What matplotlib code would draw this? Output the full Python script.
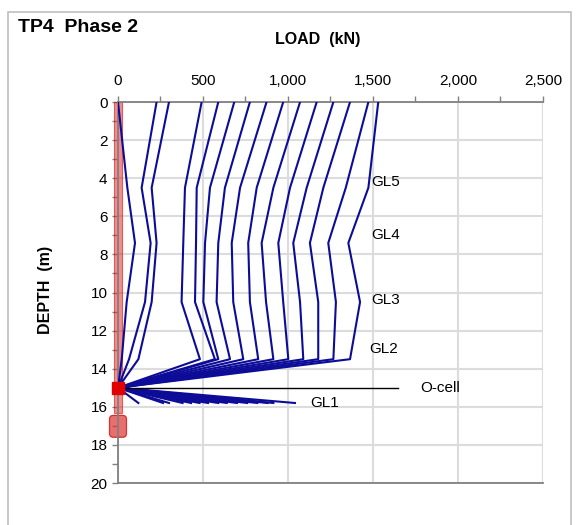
import numpy as np
import matplotlib
matplotlib.use("Agg")
import matplotlib.pyplot as plt
from matplotlib.patches import Rectangle, FancyBboxPatch

plt.rcParams['font.family'] = ['Liberation Sans', 'DejaVu Sans']

# gauge depths (m): top, GL5, GL4, GL3, GL2, O-cell
depth_up = [0.0, 4.5, 7.4, 10.5, 13.5, 15.0]
# load (kN) at each depth above the O-cell, one list per load step
loads_up = [
    [0, 55, 100, 51, 22, 0],
    [227, 139, 192, 159, 65, 0],
    [300, 198, 227, 198, 120, 0],
    [492, 394, 384, 374, 482, 0],
    [590, 463, 459, 453, 570, 0],
    [684, 541, 512, 502, 590, 0],
    [776, 629, 590, 580, 659, 0],
    [874, 718, 669, 678, 737, 0],
    [972, 816, 766, 776, 825, 0],
    [1071, 914, 845, 871, 914, 0],
    [1169, 1012, 943, 972, 1002, 0],
    [1267, 1110, 1031, 1071, 1090, 0],
    [1365, 1208, 1129, 1178, 1178, 0],
    [1473, 1340, 1237, 1282, 1267, 0],
    [1531, 1473, 1355, 1424, 1365, 0],
]
# below the O-cell: O-cell, GL1
depth_dn = [15.0, 15.8]
gl1_loads = [120, 265, 300, 380, 430, 480, 530, 590, 640, 700, 760, 820, 880, 914, 1041]

gauge_names = ['GL5', 'GL4', 'GL3', 'GL2', 'GL1']
gauge_label_x = [1490, 1490, 1490, 1480, 1130]
gauge_label_y = [4.2, 7.0, 10.4, 12.95, 15.8]
ocell_depth = 15.0
ocell_line_end = 1650

blue = '#0c0c98'

fig = plt.figure(figsize=(5.77, 5.25), dpi=100)
ax = fig.add_axes([0.2045, 0.08, 0.7365, 0.7257])

# pile shaft and toe
ax.add_patch(Rectangle((-22, 0), 44, 16.3, facecolor='#e83030', alpha=0.55,
                       edgecolor='#d00000', lw=0.8, zorder=2, clip_on=False))
ax.add_patch(FancyBboxPatch((-50, 16.45), 100, 1.15,
                            boxstyle='round,pad=0,rounding_size=22',
                            mutation_aspect=0.009,
                            facecolor='#e03030', alpha=0.7, edgecolor='#c00000', lw=0.9,
                            zorder=2, clip_on=False))

for row in loads_up:
    ax.plot(row, depth_up, color=blue, lw=1.5, zorder=3)
for v in gl1_loads:
    ax.plot([0, v], depth_dn, color=blue, lw=1.5, zorder=3)

ax.plot([0, ocell_line_end], [ocell_depth, ocell_depth], color='black', lw=1.0, zorder=4)
ax.plot([0], [ocell_depth], marker='s', ms=8, color='#e00000', zorder=5, clip_on=False)
ax.text(1780, ocell_depth, 'O-cell', fontsize=11, va='center', ha='left')

for name, x, y in zip(gauge_names, gauge_label_x, gauge_label_y):
    ax.text(x, y, name, fontsize=11, va='center', ha='left')

ax.set_xlim(0, 2500)
ax.set_ylim(20, 0)
ax.xaxis.tick_top()
ax.set_xticks(np.arange(0, 2501, 500))
ax.set_xticks(np.arange(0, 2501, 250), minor=True)
ax.set_xticklabels(['{:,}'.format(v) for v in range(0, 2501, 500)])
ax.set_yticks(np.arange(0, 21, 2))
ax.set_yticks(np.arange(0, 21, 1), minor=True)
ax.tick_params(axis='both', which='both', colors='#808080', labelcolor='black',
               labelsize=11, length=4, width=1)
ax.tick_params(axis='x', pad=6)
ax.grid(True, which='major', color='#dcdcdc', lw=1.5, zorder=0)
ax.set_axisbelow(True)
for s in ['top', 'left', 'bottom']:
    ax.spines[s].set_color('#808080')
    ax.spines[s].set_linewidth(1.3)
ax.spines['right'].set_visible(False)

fig.text(0.031, 0.947, 'TP4  Phase 2', fontsize=14, fontweight='bold', va='center')
fig.text(0.551, 0.924, 'LOAD  (kN)', fontsize=11.5, fontweight='bold', ha='center', va='center')
fig.text(0.078, 0.448, 'DEPTH  (m)', fontsize=11.5, fontweight='bold', rotation=90,
         ha='center', va='center')

fig.patches.append(Rectangle((0.014, -0.05), 0.975, 1.027, transform=fig.transFigure,
                             fill=False, edgecolor='#bfbfbf', lw=1.2))

fig.savefig('out.png', dpi=100)
